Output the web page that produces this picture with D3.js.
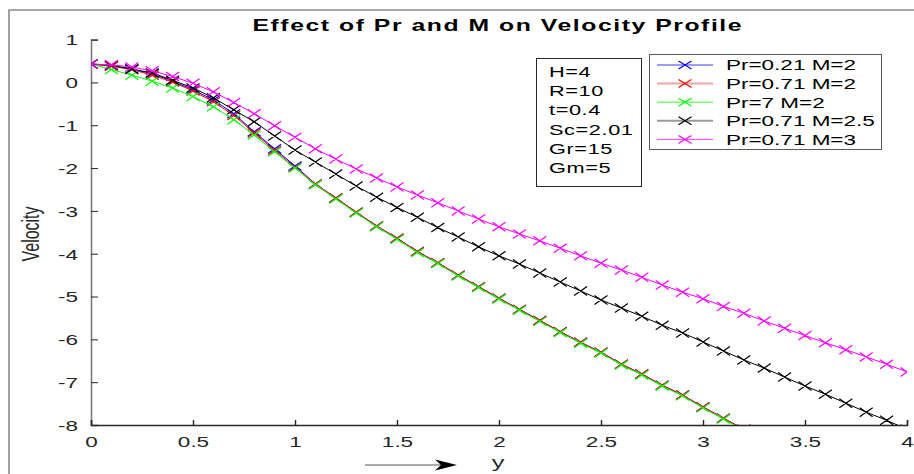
<!DOCTYPE html>
<html>
<head>
<meta charset="utf-8">
<script src="https://cdn.jsdelivr.net/npm/d3@7"></script>
<style>
body { margin: 0; background: #fff; }
text { font-family: "Liberation Sans", Arial, sans-serif; fill: #262626; }
</style>
</head>
<body>
<script>
// data
var yPos = [0, 0.1, 0.2, 0.3, 0.4, 0.5, 0.6, 0.7, 0.8, 0.9, 1.0,
	1.1, 1.2, 1.3, 1.4, 1.5, 1.6, 1.7, 1.8, 1.9, 2.0,
	2.1, 2.2, 2.3, 2.4, 2.5, 2.6, 2.7, 2.8, 2.9, 3.0,
	3.1, 3.2, 3.3, 3.4, 3.5, 3.6, 3.7, 3.8, 3.9, 4.0];

var velPr021M2 = [0.43, 0.39, 0.32, 0.20, 0.03, -0.17, -0.41, -0.73, -1.15, -1.55, -1.95,
	-2.37, -2.70, -3.03, -3.35, -3.64, -3.95, -4.21, -4.50, -4.77, -5.04,
	-5.30, -5.56, -5.82, -6.07, -6.30, -6.58, -6.81, -7.07, -7.30, -7.58,
	-7.84, -8.10];
var velPr071M2 = [0.43, 0.38, 0.30, 0.17, 0.01, -0.20, -0.45, -0.77, -1.18, -1.59, -1.98,
	-2.37, -2.70, -3.03, -3.35, -3.64, -3.95, -4.21, -4.50, -4.77, -5.04,
	-5.30, -5.56, -5.82, -6.07, -6.30, -6.58, -6.81, -7.07, -7.30, -7.58,
	-7.84, -8.10];
var velPr7M2 = [0.43, 0.30, 0.17, 0.03, -0.13, -0.33, -0.57, -0.87, -1.23, -1.62, -2.00,
	-2.39, -2.72, -3.05, -3.37, -3.66, -3.97, -4.23, -4.52, -4.79, -5.06,
	-5.32, -5.58, -5.84, -6.09, -6.32, -6.60, -6.83, -7.09, -7.32, -7.60,
	-7.86, -8.12];
var velPr071M25 = [0.43, 0.40, 0.31, 0.22, 0.05, -0.13, -0.36, -0.64, -0.92, -1.25, -1.58,
	-1.86, -2.14, -2.42, -2.68, -2.92, -3.15, -3.39, -3.61, -3.84, -4.05,
	-4.24, -4.45, -4.66, -4.87, -5.08, -5.27, -5.46, -5.67, -5.85, -6.06,
	-6.27, -6.48, -6.67, -6.88, -7.09, -7.28, -7.49, -7.70, -7.89, -8.10];
var velPr071M3 = [0.43, 0.41, 0.36, 0.27, 0.14, -0.02, -0.22, -0.47, -0.73, -1.01, -1.28,
	-1.55, -1.79, -2.02, -2.23, -2.44, -2.63, -2.81, -3.00, -3.19, -3.37,
	-3.54, -3.70, -3.87, -4.05, -4.22, -4.38, -4.55, -4.73, -4.90, -5.05,
	-5.23, -5.39, -5.57, -5.74, -5.91, -6.08, -6.24, -6.41, -6.58, -6.76];

var seriesNames = ['Pr=0.21 M=2', 'Pr=0.71 M=2', 'Pr=7 M=2', 'Pr=0.71 M=2.5', 'Pr=0.71 M=3'];
var seriesVals = [velPr021M2, velPr071M2, velPr7M2, velPr071M25, velPr071M3];
var seriesColors = ['#0000ff', '#ff0000', '#00ff00', '#000000', '#ff00ff'];
var legendLineColors = ['#3a3aff', '#f4a4a4', '#30ff30', '#9a9a9a', '#ff3cff'];
var legendLineWidths = [1, 2, 1, 2, 1];

var params = ['H=4', 'R=10', 't=0.4', 'Sc=2.01', 'Gr=15', 'Gm=5'];
var xTicks = [0, 0.5, 1, 1.5, 2, 2.5, 3, 3.5, 4];
var yTicks = [1, 0, -1, -2, -3, -4, -5, -6, -7, -8];

var SX = 1.5; // the picture is stretched sideways

var svg = d3.select('body')
	.append('svg')
	.attr('width', 914)
	.attr('height', 474);

// figure frame
svg.append('path')
	.attr('d', 'M9,474 L9,10 L914,10')
	.style('fill', 'none')
	.style('stroke', '#8a8a8a')
	.style('stroke-width', 1.6);

var x = d3.scaleLinear().domain([0, 4]).range([91, 907]);
var y = d3.scaleLinear().domain([-8, 1]).range([425, 39.6]);

var stext = function(g, tx, ty, str, size, weight, anchor) {
	return g.append('text')
		.attr('transform', 'translate(' + tx + ',' + ty + ') scale(' + SX + ',1)')
		.style('font-size', size + 'px')
		.style('font-weight', weight || 'normal')
		.style('text-anchor', anchor || 'start')
		.text(str);
};

var plain = function(d){ return String(d); };

// axes
var yAxis = svg.append('g')
	.attr('transform', 'translate(91,0)')
	.call(d3.axisLeft(y).tickValues(yTicks).tickSize(-7).tickFormat(plain));
yAxis.select('.domain').attr('stroke', '#7a7a7a').attr('stroke-width', 1.6);
yAxis.selectAll('.tick line').attr('stroke', '#262626');
yAxis.selectAll('.tick text')
	.attr('x', null).attr('dy', null)
	.attr('transform', 'translate(-13,5.3) scale(' + SX + ',1)')
	.style('font-size', '15px')
	.style('font-family', '"Liberation Sans", Arial, sans-serif')
	.attr('fill', '#262626');

var xAxis = svg.append('g')
	.attr('transform', 'translate(0,425)')
	.call(d3.axisBottom(x).tickValues(xTicks).tickSize(-5).tickFormat(plain));
xAxis.select('.domain').attr('stroke', '#262626').attr('stroke-width', 1.4);
xAxis.selectAll('.tick line').attr('stroke', '#262626').attr('stroke-width', 1.4);
xAxis.selectAll('.tick text')
	.attr('y', null).attr('dy', null)
	.attr('transform', 'translate(0,22) scale(' + SX + ',1)')
	.style('font-size', '15px')
	.style('font-family', '"Liberation Sans", Arial, sans-serif')
	.attr('fill', '#262626');

// clip to axes box
svg.append('clipPath').attr('id', 'plotclip')
	.append('rect')
	.attr('x', 91).attr('y', 39.6)
	.attr('width', 816).attr('height', 385.4);

var plot = svg.append('g').attr('clip-path', 'url(#plotclip)');

var line = d3.line()
	.x(function(d){ return x(d.x); })
	.y(function(d){ return y(d.v); });

var crossPath = function(cx, cy, w, h) {
	return 'M' + (cx - w) + ',' + (cy - h) + 'L' + (cx + w) + ',' + (cy + h) +
		'M' + (cx - w) + ',' + (cy + h) + 'L' + (cx + w) + ',' + (cy - h);
};

seriesVals.forEach(function(vals, i) {
	var pts = vals.map(function(v, j){ return { x: yPos[j], v: v }; });
	plot.append('path')
		.attr('d', line(pts))
		.style('fill', 'none')
		.style('stroke', seriesColors[i])
		.style('stroke-width', 1);
	plot.append('path')
		.attr('d', pts.map(function(p){ return crossPath(x(p.x), y(p.v), 6.5, 4.5); }).join(''))
		.style('fill', 'none')
		.style('stroke', seriesColors[i])
		.style('stroke-width', 1.2);
});

// title
stext(svg, 497, 31, 'Effect of Pr and M on Velocity Profile', 16.5, 'bold', 'middle')
	.attr('textLength', 489 / SX)
	.attr('lengthAdjust', 'spacing')
	.style('fill', '#000');

// axis labels
svg.append('text')
	.attr('transform', 'translate(39,234) scale(' + SX + ',1) rotate(-90)')
	.style('font-size', '16px')
	.style('text-anchor', 'middle')
	.text('Velocity');
stext(svg, 498, 468, 'y', 17, 'normal', 'middle');

// arrow under the x axis
svg.append('line')
	.attr('x1', 365).attr('y1', 465)
	.attr('x2', 442).attr('y2', 465)
	.style('stroke', '#555')
	.style('stroke-width', 1);
svg.append('path')
	.attr('d', 'M457,465 L435,459.5 L441,465 L435,470.5 Z')
	.style('fill', '#000');

// parameter box
svg.append('rect')
	.attr('x', 536.5).attr('y', 58.5)
	.attr('width', 105).attr('height', 128)
	.style('fill', '#fff')
	.style('stroke', '#262626')
	.style('stroke-width', 1);
params.forEach(function(p, i) {
	stext(svg, 549, 77 + i * 19.2, p, 14.5, 'normal', 'start')
		.style('letter-spacing', '0.4px')
		.style('fill', '#000');
});

// legend
svg.append('rect')
	.attr('x', 649.5).attr('y', 54.5)
	.attr('width', 232).attr('height', 95)
	.style('fill', '#fff')
	.style('stroke', '#5a5a5a')
	.style('stroke-width', 1);
seriesNames.forEach(function(name, i) {
	var ly = 65 + i * 18.6;
	svg.append('line')
		.attr('x1', 657).attr('x2', 713)
		.attr('y1', ly).attr('y2', ly)
		.style('stroke', legendLineColors[i])
		.style('stroke-width', legendLineWidths[i]);
	svg.append('path')
		.attr('d', crossPath(685, ly, 6.5, 4))
		.style('stroke', seriesColors[i])
		.style('stroke-width', 1.2)
		.style('fill', 'none');
	stext(svg, 726, ly + 5.3, name, 15, 'normal', 'start').style('fill', '#000');
});
</script>
</body>
</html>
